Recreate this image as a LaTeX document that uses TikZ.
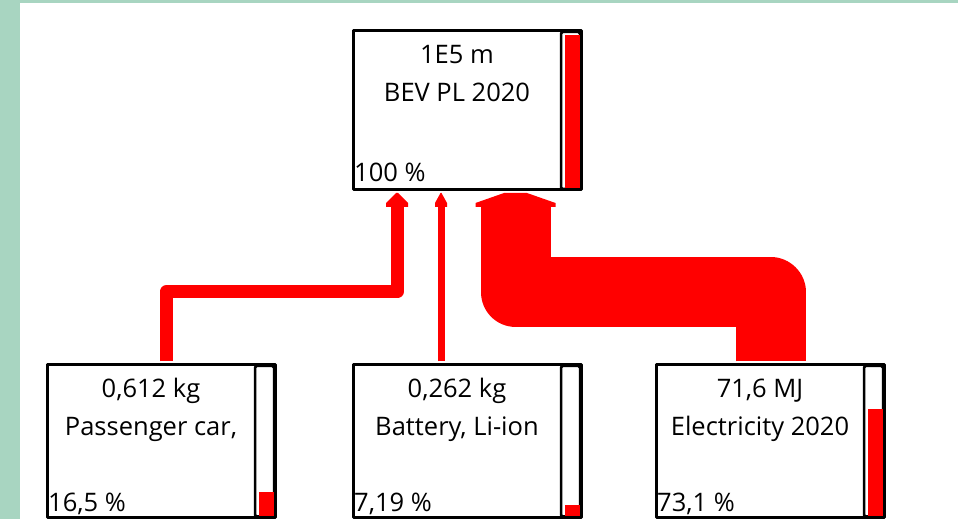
\documentclass[tikz,border=0pt]{standalone}
\usepackage{fontspec}
\setmainfont{Open Sans}
\usetikzlibrary{calc}

\definecolor{flowred}{RGB}{255,0,0}
\definecolor{framegreen}{RGB}{168,213,193}

\tikzset{
  procbox/.style={draw=black,line width=3pt,fill=white,minimum width=228pt,inner sep=0pt},
  flow/.style={draw=flowred,line cap=butt},
  boxtext/.style={anchor=base,inner sep=0pt,font=\fontsize{25.5}{30}\selectfont},
  sharetext/.style={anchor=base west,inner sep=0pt,font=\fontsize{25.5}{30}\selectfont},
  barframe/.style={draw=black,line width=2.5pt,rounded corners=1.5pt}
}

% arrow head: tip, half width, half of the flat top
\newcommand{\flowtip}[3]{%
  \fill[flowred] ($(#1)+(-#2,-14)$) -- ($(#1)+(-#2,-10)$) -- ($(#1)+(-#3,0)$)
    -- ($(#1)+(#3,0)$) -- ($(#1)+(#2,-10)$) -- ($(#1)+(#2,-14)$) -- cycle;
}
% share bar at the right side of a box
\newcommand{\sharebar}[2]{%
  \draw[barframe] ($(#1.north east)+(-22,-3)$) rectangle ($(#1.south east)+(-3,2.5)$);
  \fill[flowred] ($(#1.south east)+(-18.5,3)$) rectangle
    ($($(#1.south east)+(-3,3)$)!#2!($(#1.north east)+(-3,-6.5)$)$);
}

\begin{document}
\begin{tikzpicture}[x=1pt,y=1pt,line join=round]
    \useasboundingbox (0,0) rectangle (958,519);
    \fill[framegreen] (0,0) rectangle (958,519);
    \fill[white] (20,0) rectangle (958,516);

    % top process
    \node[procbox,minimum height=159.5pt] (bev) at (467.5,408.75) {};
    \node[boxtext] (bevamt) at ($(bev.north)+(-10.5,-34.5)$) {1E5 m};
    \node[boxtext] (bevname) at ($(bev.north)+(-10.5,-72.5)$) {BEV PL 2020};
    \node[sharetext] (bevshare) at ($(bev.south west)+(2,10)$) {100 \%};
    \sharebar{bev}{1}

    % inputs
    \foreach \n/\x/\amt/\name/\pct/\f in {
        car/161.5/{0,612 kg}/{Passenger car,}/{16,5 \%}/0.165,
        bat/467.5/{0,262 kg}/{Battery, Li-ion}/{7,19 \%}/0.0719,
        elec/770.5/{71,6 MJ}/{Electricity 2020}/{73,1 \%}/0.731} {
        \node[procbox,minimum height=153pt] (\n) at (\x,78) {};
        \node[boxtext] (\n amt) at ($(\n.north)+(-10.5,-34.5)$) {\amt};
        \node[boxtext] (\n name) at ($(\n.north)+(-10.5,-72.5)$) {\name};
        \node[sharetext] (\n share) at ($(\n.south west)+(2,7.5)$) {\pct};
        \sharebar{\n}{\f}
    }

    \coordinate (carin) at ($(bev.south)+(-70.5,-1.5)$);
    \coordinate (batin) at ($(bev.south)+(-26.5,-1.5)$);
    \coordinate (elecin) at ($(bev.south)+(48,-1.5)$);
    \coordinate (level) at (0,227);

    \draw[flow,line width=13pt] ($(car.north)+(4.5,1.5)$) |- (level -| carin) -- ($(carin)+(0,-12)$);
    \flowtip{carin}{11}{1}
    \draw[flow,line width=7pt] ($(bat.north)+(-26.5,1.5)$) -- ($(batin)+(0,-12)$);
    \flowtip{batin}{6}{0.5}
    \draw[flow,line width=70pt] ($(elec.north)+(0,1.5)$) |- (level -| elecin) -- ($(elecin)+(0,-12)$);
    \flowtip{elecin}{40}{11.5}
\end{tikzpicture}
\end{document}
